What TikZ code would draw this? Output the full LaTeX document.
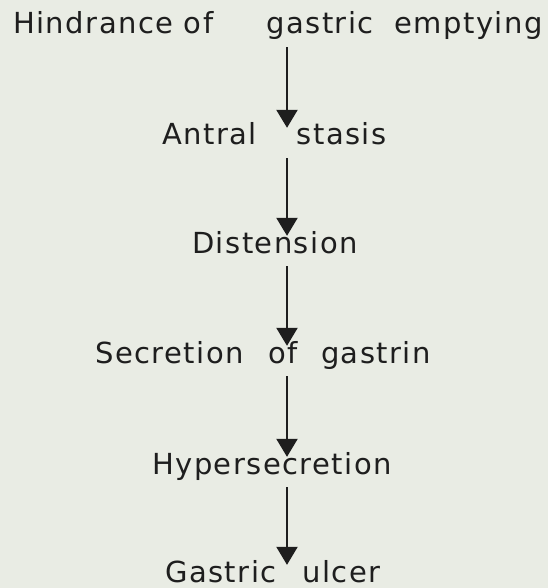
\documentclass[tikz,border=0pt]{standalone}
\usepackage{fontspec}
\usetikzlibrary{arrows.meta,positioning}
\newfontfamily\typed{DejaVu Sans}[LetterSpace=5]
\definecolor{paper}{HTML}{E9ECE4}
\definecolor{ink}{HTML}{1E1E1E}
\tikzset{stage/.style={anchor=base west,inner sep=0pt,text height=20pt,
  text depth=6pt,text=ink,font=\typed\fontsize{29}{34}\selectfont},
  arrow/.style={-{Triangle[length=18pt,width=21pt]},line width=2.2pt,
  draw=ink,shorten <=7pt,shorten >=-3pt}}

\begin{document}
\begin{tikzpicture}[x=1pt,y=-1pt]
\fill[paper] (0,0) rectangle (548,588);
\coordinate (axis) at (287,0);
\node[stage] (hind) at (13,34) {Hindrance of\hspace{53pt}gastric\hspace{21pt}emptying};
\node[stage] (antral) at (162,145) {Antral\hspace{40pt}stasis};
\node[stage] (disten) at (192,253) {Distension};
\node[stage] (gastrin) at (95,363) {Secretion\hspace{25pt}of\hspace{23pt}gastrin};
\node[stage] (hyper) at (152,474) {Hypersecretion};
\node[stage] (ulcer) at (165,582) {Gastric\hspace{26pt}ulcer};
\draw[arrow] (hind.south -| axis)--(antral.north -| axis);
\draw[arrow] (antral.south -| axis)--(disten.north -| axis);
\draw[arrow] (disten.south -| axis)--(gastrin.north -| axis);
\draw[arrow] (gastrin.south -| axis)--(hyper.north -| axis);
\draw[arrow] (hyper.south -| axis)--(ulcer.north -| axis);
\end{tikzpicture}
\end{document}
